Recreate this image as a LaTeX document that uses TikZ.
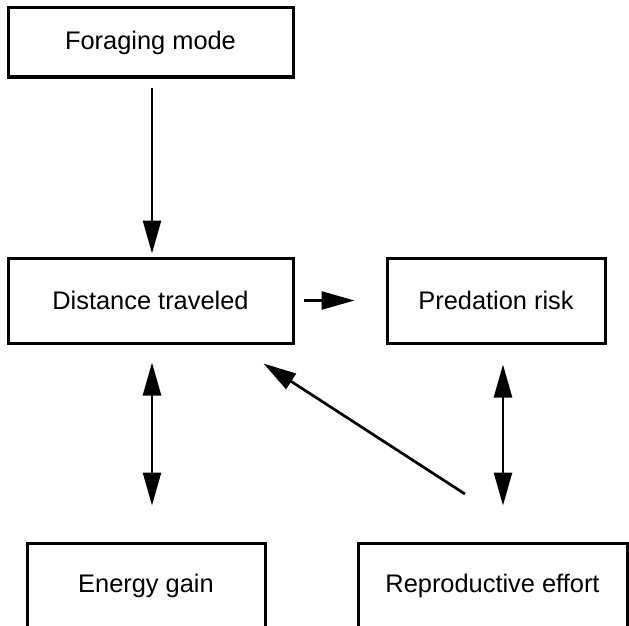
\documentclass[tikz,border=0pt]{standalone}
\usepackage{fontspec}
\setmainfont{Liberation Sans}
\usetikzlibrary{arrows.meta}
\begin{document}
\begin{tikzpicture}[x=1pt,y=-1pt,>={Triangle[length=33pt,width=18pt]},
  box/.style={draw,line width=3pt,inner sep=0pt,minimum height=85pt,font=\fontsize{25.4}{30}\selectfont},
  link/.style={line width=2.7pt}]
\useasboundingbox (0,0) rectangle (629,626);
\clip (0,0) rectangle (629,626);
\node[box,minimum width=285pt,minimum height=69pt] (forage) at (150.5,42.5) {Foraging mode};
\node[box,minimum width=285pt] (dist) at (150.5,300.5) {Distance traveled};
\node[box,minimum width=218pt] (pred) at (496,300.5) {Predation risk};
\node[box,minimum width=238pt] (energy) at (146,585.5) {Energy gain};
\node[box,minimum width=269pt] (repro) at (492.5,585.5) {Reproductive effort};
% free ends of the slanted arrow
\coordinate (rtail) at (465,494);
\coordinate (dtip) at ([shift={(-31,19)}]dist.south east);
\draw[link,->,shorten <=9pt,shorten >=3pt] ([xshift=1.5pt]forage.south) -- ([xshift=1.5pt]dist.north);
\draw[link,->,shorten <=9pt,shorten >=31pt] (dist.east) -- (pred.west);
\draw[link,<->,shorten <=18pt,shorten >=36pt] ([xshift=1.5pt]dist.south) -- ([xshift=1.5pt]dist.south |- energy.north);
\draw[link,<->,shorten <=20pt,shorten >=36pt] ([xshift=7pt]pred.south) -- ([xshift=7pt]pred.south |- repro.north);
\draw[link,->] (rtail) -- (dtip);
\end{tikzpicture}
\end{document}
